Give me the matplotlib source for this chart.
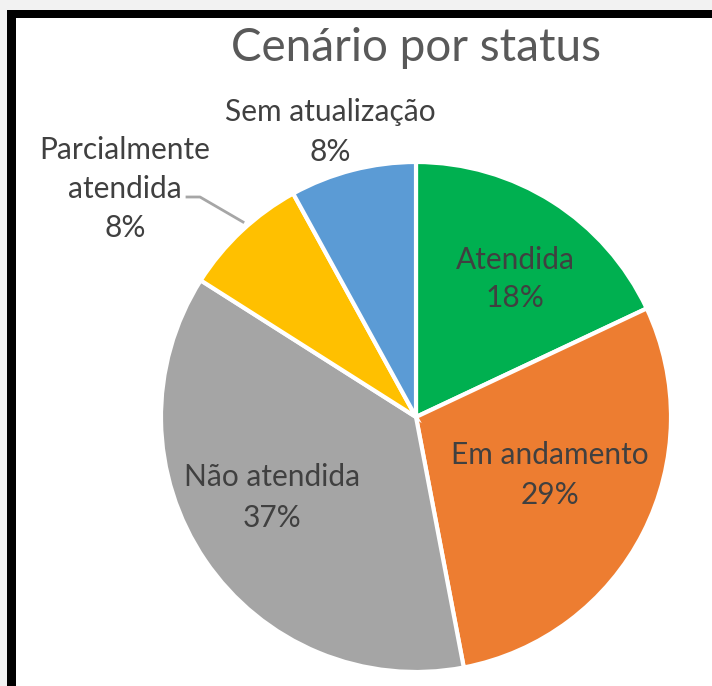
import matplotlib
matplotlib.use("Agg")
import matplotlib.pyplot as plt
from matplotlib.patches import Rectangle

categories = ["Atendida", "Em andamento", "Não atendida", "Parcialmente\natendida", "Sem atualização"]
values = [18, 29, 37, 8, 8]
colors = ["#00B050", "#ED7D31", "#A5A5A5", "#FFC000", "#5B9BD5"]
title = "Cenário por status"

W, H = 712, 686
fig = plt.figure(figsize=(W / 100, H / 100), dpi=100)
fig.patch.set_facecolor("#f2f2f2")
ax = fig.add_axes([0, 0, 1, 1])
ax.set_xlim(0, W)
ax.set_ylim(0, H)
ax.set_aspect("equal")
ax.axis("off")

def Y(y):
    return H - y

# frame
ax.add_patch(Rectangle((7, 0), W, Y(10), facecolor="black", edgecolor="none", zorder=0))
ax.add_patch(Rectangle((16, 0), W, Y(18), facecolor="white", edgecolor="none", zorder=0))

font = "Lato"
tc = "#404040"

wedges, _ = ax.pie(values, colors=colors, startangle=90, counterclock=False,
                   center=(416, Y(417)), radius=255, frame=True,
                   wedgeprops=dict(edgecolor="white", linewidth=3))
ax.set_xlim(0, W)
ax.set_ylim(0, H)
ax.axis("off")

ax.text(416, Y(48), title, ha="center", va="center", fontsize=33, color="#595959", family=font)

lfs = 21.5
def lab(x, y, name, val, ls=40):
    lines = name.split("\n") + [f"{val}%"]
    for i, t in enumerate(lines):
        ax.text(x, Y(y + i * ls), t, ha="center", va="center", fontsize=lfs, color=tc, family=font)

lab(330, 112, categories[4], values[4])
lab(125, 150, categories[3], values[3], ls=39)
lab(515, 260, categories[0], values[0], ls=38)
lab(550, 455, categories[1], values[1])
lab(272, 477, categories[2], values[2], ls=41)

# leader line
ax.plot([187, 200, 243], [Y(197), Y(197), Y(222)], color="#a6a6a6", lw=2, zorder=5)

fig.savefig("out.png", dpi=100, facecolor=fig.get_facecolor())
